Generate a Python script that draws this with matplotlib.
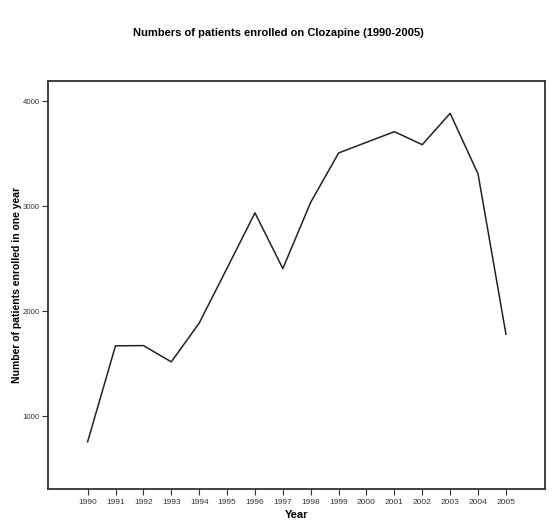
import matplotlib
matplotlib.use("Agg")
import matplotlib.pyplot as plt

years = [1990, 1991, 1992, 1993, 1994, 1995, 1996, 1997, 1998, 1999, 2000, 2001, 2002, 2003, 2004, 2005]
patients = [755, 1670, 1672, 1517, 1886, 2410, 2937, 2406, 3038, 3508, 3610, 3711, 3587, 3886, 3308, 1781]
yticks = [1000, 2000, 3000, 4000]

plt.rcParams['font.family'] = ['Liberation Sans', 'DejaVu Sans']

fig = plt.figure(figsize=(5.57, 5.30), dpi=100)
ax = fig.add_axes([48.3/557, 1 - 489/530, (544.7-48.3)/557, (489-80.7)/530])
ax.plot(years, patients, color='#222222', lw=1.1)
ax.set_xlim(1988.59, 2006.39)
ax.set_ylim(305, 4197)
ax.set_xticks(years)
ax.set_xticklabels([str(y) for y in years], fontsize=6, color='#333333')
ax.set_yticks(yticks)
ax.set_yticklabels([str(v) for v in yticks], fontsize=5.6, color='#333333')
ax.tick_params(axis='both', direction='out', length=4, width=0.8, color='#333333')
ax.tick_params(axis='x', pad=3.5)
ax.tick_params(axis='y', pad=2)
for s in ax.spines.values():
    s.set_linewidth(1.3)
    s.set_color('#333333')
ax.set_xlabel('Year', fontsize=8, fontweight='bold', labelpad=2.5)
ax.set_ylabel('Number of patients enrolled in one year', fontsize=7.5, fontweight='bold')
ax.yaxis.set_label_coords(-0.053, 0.5)
fig.text(0.5, 1 - 33/530, 'Numbers of patients enrolled on Clozapine (1990-2005)',
         ha='center', va='center', fontsize=8, fontweight='bold')
fig.savefig('out.png', dpi=100)
